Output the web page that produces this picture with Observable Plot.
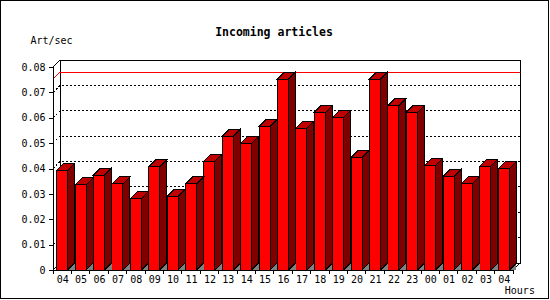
<!DOCTYPE html>
<html><head><meta charset="utf-8">
<script src="https://cdn.jsdelivr.net/npm/d3@7"></script>
<script src="https://cdn.jsdelivr.net/npm/@observablehq/plot@0.6"></script>
<style>html,body{margin:0;padding:0;background:#fff}svg{display:block}</style>
</head><body><div id="chart"></div>
<script>
const hours = ["04","05","06","07","08","09","10","11","12","13","14","15","16","17","18","19","20","21","22","23","00","01","02","03","04"];
const rates = [0.0393,0.0335,0.0374,0.0339,0.0282,0.0406,0.0290,0.0339,0.0428,0.0528,0.0499,0.0566,0.0752,0.0559,0.0621,0.0601,0.0444,0.0752,0.0648,0.0621,0.0412,0.0369,0.0341,0.0409,0.0400];
const yTicks = [0,0.01,0.02,0.03,0.04,0.05,0.06,0.07,0.08];
const gridTicks = [0.01,0.02,0.03,0.04,0.05,0.06,0.07];
const title = "Incoming articles";
const yLabel = "Art/sec";
const xLabel = "Hours";

const data = hours.map((h, i) => ({i, h, v: rates[i]}));
const maxRate = d3.max(rates);
const DX = 7, DY = -7, INSET = 3.7;

function backdrop(index, scales, values, dims) {
  const {y} = scales;
  const {width, height, marginLeft, marginRight} = dims;
  const x0 = marginLeft, x1 = width - marginRight;
  const yTop = y(yTicks[yTicks.length - 1]), yB = y(0);
  const g = d3.create("svg:g").attr("fill", "none").attr("stroke", "black");
  g.append("rect").attr("x", 0.5).attr("y", 0.5).attr("width", width - 2).attr("height", height - 2);
  g.append("rect").attr("fill", "white").attr("x", x0 + DX).attr("y", yTop + DY)
    .attr("width", x1 - x0).attr("height", yB - yTop);
  for (const t of gridTicks) {
    const yy = y(t);
    g.append("path").attr("stroke-dasharray", "2,2")
      .attr("d", `M${x0},${yy}L${x0 + DX},${yy + DY}L${x1 + DX},${yy + DY}`);
  }
  const ym = y(maxRate);
  g.append("path").attr("stroke", "red")
    .attr("d", `M${x0},${ym}L${x0 + DX},${ym + DY}L${x1 + DX},${ym + DY}`);
  g.append("path").attr("d", `M${x0},${yB}L${x0},${yTop}L${x0 + DX},${yTop + DY}`);
  g.append("path").attr("d", `M${x0},${yB}L${x0 + DX},${yB + DY}`);
  g.append("path").attr("d", `M${x0},${yB}L${x1},${yB}L${x1 + DX},${yB + DY}`);
  return g.node();
}

function bars3d(index, scales) {
  const {x, y} = scales;
  const bw = x.bandwidth ? x.bandwidth() : (x(1) - x(0));
  const g = d3.create("svg:g").attr("stroke", "black");
  const yb = y(0);
  for (const d of data) {
    const xl = x(d.i) + INSET, xr = x(d.i) + bw - INSET, yt = y(d.v);
    g.append("path").attr("fill", "#808080").attr("stroke", "none")
      .attr("d", `M${xr},${yb}L${xr + DX},${yb + DY}L${xr + DX},${yb}Z`);
    g.append("path").attr("fill", "#c00000")
      .attr("d", `M${xl},${yt}L${xl + DX},${yt + DY}L${xr + DX},${yt + DY}L${xr},${yt}Z`);
    g.append("path").attr("fill", "#800000")
      .attr("d", `M${xr},${yt}L${xr + DX},${yt + DY}L${xr + DX},${yb + DY}L${xr},${yb}Z`);
  }
  return g.node();
}

function xTicks(index, scales, values, dims) {
  const {x, y} = scales;
  const bw = x.bandwidth ? x.bandwidth() : (x(1) - x(0));
  const yb = y(0);
  const g = d3.create("svg:g").attr("stroke", "black");
  const xs = data.map(d => x(d.i)).concat([x(data.length - 1) + bw]);
  for (const xx of xs) g.append("path").attr("d", `M${xx},${yb}L${xx},${yb + 4}`);
  return g.node();
}

const chart = Plot.plot({
  width: 550,
  height: 300,
  marginTop: 67,
  marginBottom: 30,
  marginLeft: 53,
  marginRight: 37,
  style: {fontFamily: "'DejaVu Sans Mono', monospace", fontSize: "10px", background: "white", shapeRendering: "crispEdges"},
  x: {type: "band", domain: d3.range(hours.length), padding: 0, round: false, axis: null},
  y: {domain: [0, 0.08], axis: null},
  marks: [
    backdrop,
    Plot.barY(data, {x: "i", y: "v", fill: "#ff0000", stroke: "black", insetLeft: INSET, insetRight: INSET}),
    bars3d,
    xTicks,
    Plot.axisY({ticks: yTicks, tickFormat: d => d === 0 ? "0" : d.toFixed(2), tickSize: 4, tickPadding: 4, label: null, fill: "black", fontSize: 10}),
    Plot.axisX({tickFormat: i => hours[i], tickSize: 0, tickPadding: 5, label: null, fontSize: 10}),
    Plot.text([title], {frameAnchor: "top", dx: -9.5, dy: -40, fontWeight: "bold", fontSize: 11.5, fill: "black"}),
    Plot.text([yLabel], {frameAnchor: "top-left", textAnchor: "start", dx: -23, dy: -30.5, fontSize: 10, fill: "black"}),
    Plot.text([xLabel], {frameAnchor: "bottom-right", textAnchor: "start", dx: -8.7, dy: 23, fontSize: 10, fill: "black"})
  ]
});
document.getElementById("chart").append(chart);
</script>
</body></html>
